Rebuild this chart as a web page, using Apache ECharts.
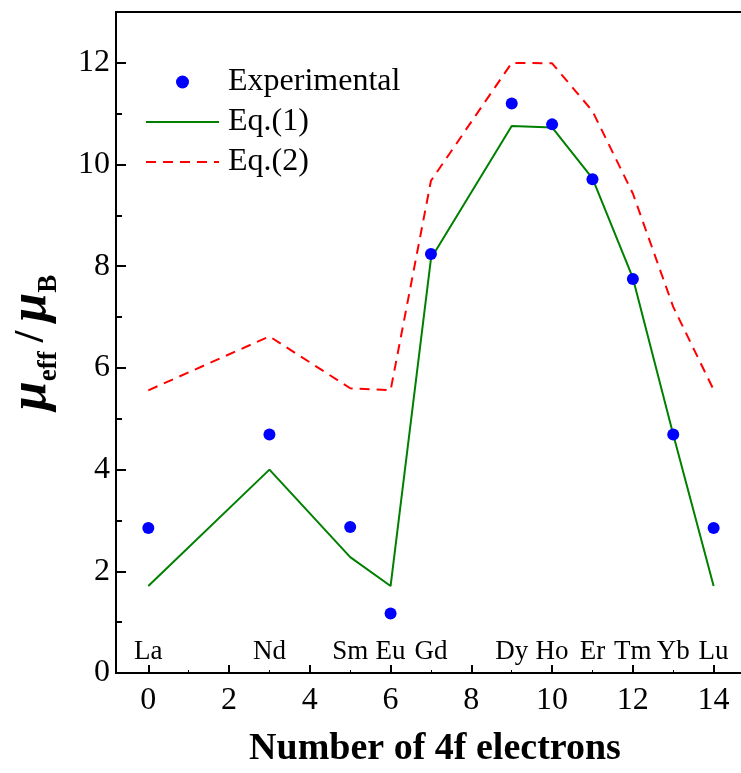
<!DOCTYPE html>
<html>
<head>
<meta charset="utf-8">
<script src="https://cdn.jsdelivr.net/npm/echarts@6/dist/echarts.min.js"></script>
<style>html,body{margin:0;padding:0;background:#fff;}#c{width:741px;height:773px;}</style>
</head>
<body>
<div id="c"></div>
<script>
// ---- data ----
const nf = [0, 3, 5, 6, 7, 9, 10, 11, 12, 13, 14];
const elements = ['La', 'Nd', 'Sm', 'Eu', 'Gd', 'Dy', 'Ho', 'Er', 'Tm', 'Yb', 'Lu'];
const experimental = [2.85, 4.69, 2.87, 1.17, 8.24, 11.2, 10.79, 9.71, 7.75, 4.69, 2.85];
const eq1 = [1.71, 4.0, 2.28, 1.71, 8.15, 10.76, 10.73, 9.73, 7.77, 4.69, 1.71];
const eq2 = [5.56, 6.62, 5.60, 5.56, 9.68, 12.0, 11.99, 11.05, 9.43, 7.2, 5.57];
const seriesNames = ['Experimental', 'Eq.(1)', 'Eq.(2)'];
const xTitle = 'Number of 4f electrons';

const elementLabelLevel = 0.41;
const pair = (xs, ys) => xs.map((x, i) => [x, ys[i]]);

const serif = 'Liberation Serif, Times New Roman, serif';
const chart = echarts.init(document.getElementById('c'), null, {renderer: 'canvas'});
chart.setOption({
  animation: false,
  backgroundColor: '#fff',
  grid: {left: 116, right: -13, top: 12, bottom: 100, show: true, borderColor: '#000', borderWidth: 2,
         backgroundColor: 'transparent', containLabel: false, outerBoundsMode: 'none'},
  legend: {
    data: [
      {name: seriesNames[0]},
      {name: seriesNames[1], itemStyle: {opacity: 0}},
      {name: seriesNames[2], itemStyle: {opacity: 0}}
    ],
    orient: 'vertical',
    left: 145, top: 65, padding: 0,
    itemWidth: 73, itemHeight: 13, itemGap: 6,
    textStyle: {fontFamily: serif, fontSize: 32, color: '#000', lineHeight: 34, padding: [0, 0, 0, 4]}
  },
  xAxis: [{
    type: 'value', min: -0.8, max: 15, minInterval: 2, maxInterval: 2,
    name: xTitle, nameLocation: 'middle', nameGap: 57,
    nameTextStyle: {fontFamily: serif, fontWeight: 'bold', fontSize: 38, color: '#000'},
    axisLine: {onZero: false, lineStyle: {color: '#000', width: 2}},
    axisTick: {inside: true, length: 8, lineStyle: {color: '#000', width: 2}},
    axisLabel: {fontFamily: serif, fontSize: 32, color: '#000', margin: 12, showMinLabel: false, showMaxLabel: false},
    splitLine: {show: false}
  }, {
    type: 'value', min: -0.8, max: 15, minInterval: 1, maxInterval: 1, position: 'bottom',
    axisLine: {show: false, onZero: false},
    axisTick: {inside: true, length: 3, lineStyle: {color: '#000', width: 1}},
    axisLabel: {show: false}, splitLine: {show: false}
  }],
  yAxis: [{
    type: 'value', min: 0, max: 13, interval: 2,
    name: '{mu|μ}{sub|eff}{sl|/}{mu|μ}{sub|B}',
    nameLocation: 'middle', nameGap: 53, nameRotate: 90,
    nameTextStyle: {
      rich: {
        mu: {fontFamily: serif, fontStyle: 'italic', fontWeight: 'bold', fontSize: 52, lineHeight: 62, color: '#000'},
        sub: {fontFamily: serif, fontWeight: 'bold', fontSize: 27, lineHeight: 24, verticalAlign: 'bottom', color: '#000'},
        sl: {fontFamily: serif, fontWeight: 'bold', fontSize: 42, lineHeight: 62, color: '#000', padding: [0, 9, 0, 9]}
      }
    },
    axisLine: {onZero: false, lineStyle: {color: '#000', width: 2}},
    axisTick: {inside: true, length: 10, lineStyle: {color: '#000', width: 2}},
    axisLabel: {fontFamily: serif, fontSize: 32, color: '#000', margin: 6, showMaxLabel: false},
    splitLine: {show: false}
  }, {
    type: 'value', min: 0, max: 13, interval: 1, position: 'left',
    axisLine: {show: false, onZero: false},
    axisTick: {inside: true, length: 6, lineStyle: {color: '#000', width: 2}},
    axisLabel: {show: false}, splitLine: {show: false}
  }],
  series: [
    {
      name: 'Eq.(2)', type: 'line', data: pair(nf, eq2), symbol: 'none',
      lineStyle: {color: '#ff0000', width: 2, type: [10, 7]}, itemStyle: {color: '#ff0000'}, z: 2
    },
    {
      name: 'Eq.(1)', type: 'line', data: pair(nf, eq1), symbol: 'none',
      lineStyle: {color: '#008000', width: 2}, itemStyle: {color: '#008000'}, z: 3
    },
    {
      name: 'Experimental', type: 'scatter', data: pair(nf, experimental), symbol: 'circle', symbolSize: 12,
      itemStyle: {color: '#0000ff', opacity: 1}, z: 4
    },
    {
      name: 'elements', type: 'scatter', symbolSize: 0,
      itemStyle: {opacity: 1},
      data: nf.map((x, i) => ({value: [x, elementLabelLevel], name: elements[i]})),
      label: {show: true, position: 'inside', formatter: p => p.name, fontFamily: serif, fontSize: 27, color: '#000', opacity: 1},
      silent: true, z: 5
    }
  ]
});
</script>
</body>
</html>
